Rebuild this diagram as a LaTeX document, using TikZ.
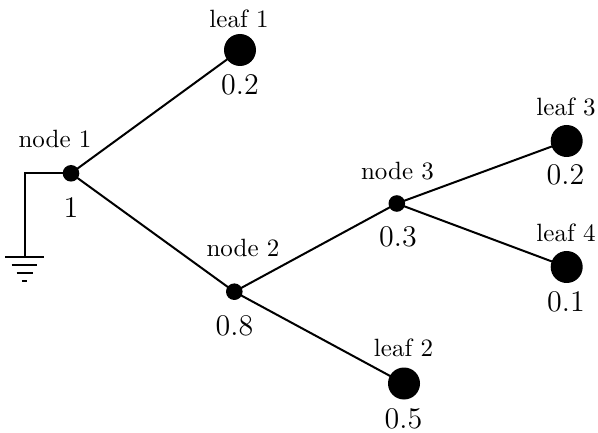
\documentclass[tikz,border=0pt]{standalone}
\begin{document}
\begin{tikzpicture}[x=1pt,y=-1pt,line width=2pt,
  dotnode/.style={circle,fill=black,inner sep=0pt,minimum size=16.6pt},
  leafnode/.style={circle,fill=black,inner sep=0pt,minimum size=32pt},
  lab/.style={anchor=base,scale=2.5,font=\normalsize,inner sep=0pt,text depth=0pt},
  val/.style={anchor=base,scale=2.5,font=\large,inner sep=0pt,text depth=0pt}]
\useasboundingbox (0,0) rectangle (598,433);
% nodes
\node[dotnode] (n1) at (71,173.3) {};
\node[dotnode] (n2) at (234.3,291.7) {};
\node[dotnode] (n3) at (396.8,203.5) {};
\node[leafnode] (l1) at (240,50) {};
\node[leafnode] (l2) at (404,383.5) {};
\node[leafnode] (l3) at (566.7,141) {};
\node[leafnode] (l4) at (566.7,267) {};
% edges
\draw (n1.center) -- (l1.center);
\draw (n1.center) -- (n2.center);
\draw (n2.center) -- (n3.center);
\draw (n2.center) -- (l2.center);
\draw (n3.center) -- (l3.center);
\draw (n3.center) -- (l4.center);
% ground
\coordinate (g) at (24.5,257);
\draw (n1.center) -| (g);
\draw (5,257) -- (44,257);
\draw (11.7,265) -- (37.3,265);
\draw (16.7,272.8) -- (32.5,272.8);
\draw (21.9,280.7) -- (26.9,280.7);
% labels
\node[lab] (t1) at (55,148) {node 1};
\node[val] (v1) at (71,218) {1};
\node[lab] (t2) at (243,256.5) {node 2};
\node[val] (v2) at (234.5,335) {0.8};
\node[lab] (t3) at (397.5,180) {node 3};
\node[val] (v3) at (398,246.5) {0.3};
\node[lab] (tl1) at (239,28) {leaf 1};
\node[val] (vl1) at (240,94.5) {0.2};
\node[lab] (tl2) at (403.5,356.5) {leaf 2};
\node[val] (vl2) at (403.5,428) {0.5};
\node[lab] (tl3) at (566,116) {leaf 3};
\node[val] (vl3) at (565.5,184.5) {0.2};
\node[lab] (tl4) at (566,241.5) {leaf 4};
\node[val] (vl4) at (566,311.5) {0.1};
\end{tikzpicture}
\end{document}
